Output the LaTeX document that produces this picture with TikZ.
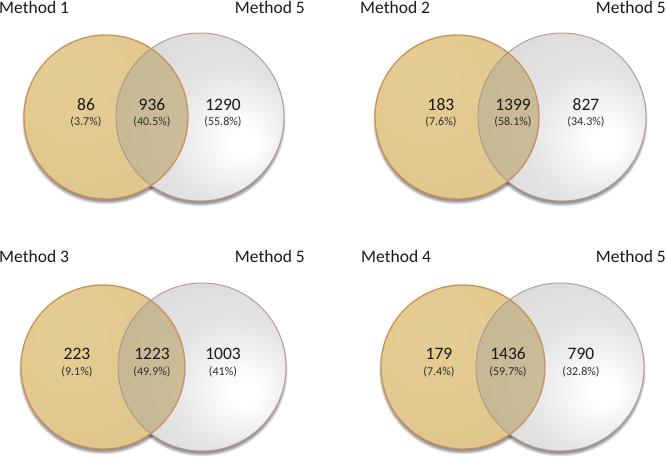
\documentclass[tikz,border=0pt]{standalone}
\usepackage{fontspec}
\setmainfont{Carlito}
\definecolor{goldA}{HTML}{E4CD93}
\definecolor{goldB}{HTML}{DBC085}
\definecolor{goldRim}{HTML}{CC8D58}
\definecolor{greyRim}{HTML}{B09C8E}
\definecolor{lensA}{HTML}{CDBF9C}
\definecolor{lensB}{HTML}{C2B28C}
\definecolor{txt}{HTML}{1A1A1A}
\definecolor{txtp}{HTML}{2E2E2E}
\pgfdeclareradialshading{goldball}{\pgfpoint{-12bp}{12bp}}{color(0bp)=(goldA); color(30bp)=(goldA!55!goldB); color(62bp)=(goldB)}
\pgfdeclareradialshading{greyball}{\pgfpoint{14bp}{-8bp}}{color(0bp)=(white); color(4bp)=(white); color(20bp)=(gray!22); color(62bp)=(gray!42)}
\pgfdeclareradialshading{lensball}{\pgfpoint{8bp}{-4bp}}{color(0bp)=(lensA); color(60bp)=(lensB)}
\tikzset{
  methodlbl/.style={font=\fontsize{17.5}{20}\selectfont, text=txt, inner sep=0pt},
  countlbl/.style={font=\fontsize{17.5}{20}\selectfont, text=txt, inner sep=0pt},
  pctlbl/.style={font=\fontsize{12}{14}\selectfont, text=txtp, inner sep=0pt},
}
% #1 left x, #2 right x, #3 centre y
\newcommand\vennpair[3]{%
  \foreach \k in {0,...,4}{%
    \fill[black, opacity=0.1] (#1,#3+3.5) circle[radius=80.5pt+\k*0.8pt];
    \fill[black, opacity=0.1] (#2,#3+3.5) circle[radius=82.5pt+\k*0.8pt];
  }
  \fill[white] (#1,#3) circle[radius=82pt];
  \fill[white] (#2,#3) circle[radius=84pt];
  \fill[shading=goldball] (#1,#3) circle[radius=82pt];
  \fill[shading=greyball] (#2,#3) circle[radius=84pt];
  \begin{scope}
    \clip (#1,#3) circle[radius=82pt];
    \fill[shading=lensball] (#2,#3) circle[radius=84pt];
  \end{scope}
  \draw[goldRim, line width=1.4pt, opacity=0.85] (#1,#3) circle[radius=82pt];
  \draw[greyRim, line width=1.0pt, opacity=0.85] (#2,#3) circle[radius=84pt];
}
\begin{document}
\begin{tikzpicture}[x=1pt,y=-1pt]
\useasboundingbox[fill=white] (0,0) rectangle (666,456);
% top-left
\vennpair{106}{200}{117}
\node[methodlbl, anchor=base west] (m1) at (-1,13) {Method 1};
\node[methodlbl, anchor=base east] (m5a) at (305,13) {Method 5};
\node[countlbl] (a1) at (86,105) {86};
\node[pctlbl] (a1p) at (86,122) {(3.7\%)};
\node[countlbl] (a2) at (152,105) {936};
\node[pctlbl] (a2p) at (152,122) {(40.5\%)};
\node[countlbl] (a3) at (223,105) {1290};
\node[pctlbl] (a3p) at (223,122) {(55.8\%)};
% top-right
\vennpair{457}{562}{117}
\node[methodlbl, anchor=base west] (m2) at (360,13) {Method 2};
\node[methodlbl, anchor=base east] (m5b) at (666,13) {Method 5};
\node[countlbl] (b1) at (441,105) {183};
\node[pctlbl] (b1p) at (441,122) {(7.6\%)};
\node[countlbl] (b2) at (513,105) {1399};
\node[pctlbl] (b2p) at (513,122) {(58.1\%)};
\node[countlbl] (b3) at (586,105) {827};
\node[pctlbl] (b3p) at (586,122) {(34.3\%)};
% bottom-left
\vennpair{103}{202}{367}
\node[methodlbl, anchor=base west] (m3) at (-1,262) {Method 3};
\node[methodlbl, anchor=base east] (m5c) at (305,262) {Method 5};
\node[countlbl] (c1) at (77,354) {223};
\node[pctlbl] (c1p) at (77,372) {(9.1\%)};
\node[countlbl] (c2) at (152,354) {1223};
\node[pctlbl] (c2p) at (152,372) {(49.9\%)};
\node[countlbl] (c3) at (223,354) {1003};
\node[pctlbl] (c3p) at (223,372) {(41\%)};
% bottom-right
\vennpair{463}{560}{367}
\node[methodlbl, anchor=base west] (m4) at (361,262) {Method 4};
\node[methodlbl, anchor=base east] (m5d) at (666,262) {Method 5};
\node[countlbl] (d1) at (439,354) {179};
\node[pctlbl] (d1p) at (439,372) {(7.4\%)};
\node[countlbl] (d2) at (508,354) {1436};
\node[pctlbl] (d2p) at (508,372) {(59.7\%)};
\node[countlbl] (d3) at (581,354) {790};
\node[pctlbl] (d3p) at (581,372) {(32.8\%)};
\end{tikzpicture}
\end{document}
